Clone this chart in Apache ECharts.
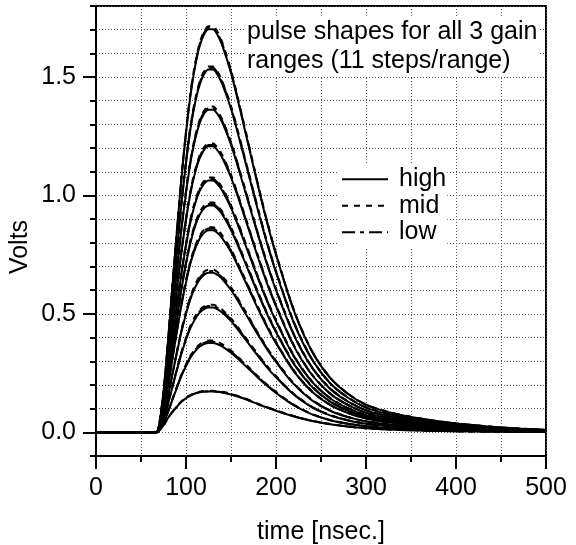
<!DOCTYPE html>
<html>
<head>
<meta charset="utf-8">
<script src="https://cdn.jsdelivr.net/npm/echarts@6/dist/echarts.min.js"></script>
<style>
  html, body { margin: 0; padding: 0; background: #fff; }
  #chart { width: 576px; height: 545px; }
</style>
</head>
<body>
<div id="chart"></div>
<script>
"use strict"

const FONT = "'Liberation Sans', Arial, Helvetica, sans-serif";

// sample times [nsec.]
const timeNs = [0, 60, 67, 70, 75, 80, 85, 90, 95, 100, 105, 110, 115, 120, 125, 130, 135, 140, 150, 160, 170, 180, 190, 200, 220, 240, 260, 280, 300, 325, 350, 375, 400, 450, 500];
const bigShape = [0, 0, 0, 0.017, 0.10, 0.225, 0.365, 0.50, 0.63, 0.74, 0.835, 0.905, 0.955, 0.985, 0.998, 0.998, 0.984, 0.96, 0.89, 0.80, 0.705, 0.61, 0.52, 0.44, 0.30, 0.20, 0.135, 0.095, 0.068, 0.05, 0.038, 0.029, 0.022, 0.012, 0.006];
// the smallest pulse is a bit wider
const smallShape = [0, 0, 0, 0.04, 0.17, 0.35, 0.50, 0.63, 0.75, 0.84, 0.90, 0.95, 0.98, 0.995, 1.0, 1.0, 0.99, 0.98, 0.93, 0.86, 0.78, 0.69, 0.61, 0.53, 0.39, 0.28, 0.20, 0.14, 0.10, 0.07, 0.05, 0.035, 0.025, 0.012, 0.006];

// peak heights [V] of the 11 steps in each gain range
const highPeaks = [0.172, 0.378, 0.528, 0.675, 0.855, 0.960, 1.065, 1.210, 1.365, 1.535, 1.705];
const midPeaks  = [0.175, 0.388, 0.540, 0.688, 0.868, 0.972, 1.078, 1.222, 1.378, 1.548, 1.718];
const lowPeaks  = [0.173, 0.383, 0.534, 0.682, 0.862, 0.966, 1.072, 1.216, 1.372, 1.542, 1.712];

const yMajor = [0, 0.5, 1.0, 1.5];

const rangeStyles = [
    { name: "low",  peaks: lowPeaks,  type: [13, 5, 4, 5] },
    { name: "mid",  peaks: midPeaks,  type: [6, 6] },
    { name: "high", peaks: highPeaks, type: "solid" }
];

const series = [];
rangeStyles.forEach(rs =>
{
    rs.peaks.forEach((amp, i) =>
    {
        const shape = i === 0 ? smallShape : bigShape;
        series.push({
            name: rs.name,
            type: "line",
            xAxisIndex: 0,
            yAxisIndex: 0,
            symbol: "none",
            smooth: 0.3,
            silent: true,
            lineStyle: { color: "#000", width: 2, type: rs.type },
            data: timeNs.map((t, k) => [t, shape[k] * amp])
        });
    });
});

const gridLine = { show: true, lineStyle: { color: "#555", width: 1, type: [1, 2] } };
const blackLine = { show: true, onZero: false, lineStyle: { color: "#000", width: 2 } };

const option = {
    animation: false,
    backgroundColor: "#fff",
    textStyle: { fontFamily: FONT },
    grid: { left: 96, right: 30, top: 6, bottom: 89, show: true, borderColor: "#000", borderWidth: 2, outerBoundsMode: "none" },
    xAxis: [{
        type: "value",
        position: "bottom",
        min: 0, max: 500, interval: 100,
        axisLine: blackLine,
        axisTick: { show: true, length: 13, lineStyle: { color: "#000", width: 2 } },
        minorTick: { show: true, splitNumber: 2, length: 6, lineStyle: { color: "#000", width: 2 } },
        axisLabel: { margin: 20, fontSize: 25, color: "#000", fontFamily: FONT },
        splitLine: gridLine,
        minorSplitLine: gridLine
    }],
    yAxis: [{
        type: "value",
        position: "left",
        min: -0.1, max: 1.8, interval: 0.1,
        axisLine: blackLine,
        axisTick: { show: true, length: 6, lineStyle: { color: "#000", width: 2 } },
        axisLabel: { show: false },
        splitLine: gridLine
    }, {
        type: "value",
        position: "left",
        min: -0.1, max: 1.8,
        axisLine: blackLine,
        axisTick: { show: true, length: 13, customValues: yMajor, lineStyle: { color: "#000", width: 2 } },
        axisLabel: { margin: 20, fontSize: 25, color: "#000", fontFamily: FONT, customValues: yMajor, formatter: v => v.toFixed(1) },
        splitLine: { show: false }
    }],
    legend: {
        data: ["high", "mid", "low"],
        orient: "vertical",
        left: 337, top: 163,
        padding: [3, 1, 3, 4],
        itemGap: 0,
        itemWidth: 46,
        itemHeight: 14,
        selectedMode: false,
        backgroundColor: "#fff",
        itemStyle: { color: "rgba(0,0,0,0)", borderWidth: 0 },
        textStyle: { fontSize: 25, color: "#000", fontFamily: FONT, lineHeight: 26.5, padding: [0, 0, 0, 6] }
    },
    graphic: [{
        type: "text",
        left: 245, top: 17,
        z: 100,
        style: {
            text: "pulse shapes for all 3 gain\nranges (11 steps/range)",
            font: "25px " + FONT,
            lineHeight: 29,
            fill: "#000",
            backgroundColor: "#fff",
            padding: [1, 2, 1, 2]
        }
    }, {
        type: "text",
        x: 20, y: 247,
        rotation: Math.PI / 2,
        style: { text: "Volts", font: "25px " + FONT, fill: "#000", align: "center", verticalAlign: "middle" }
    }, {
        type: "text",
        x: 321, y: 532,
        style: { text: "time [nsec.]", font: "25px " + FONT, fill: "#000", align: "center", verticalAlign: "middle" }
    }],
    series: series
};

const myChart = echarts.init(document.getElementById("chart"), null, { renderer: "canvas" });
myChart.setOption(option);
</script>
</body>
</html>
